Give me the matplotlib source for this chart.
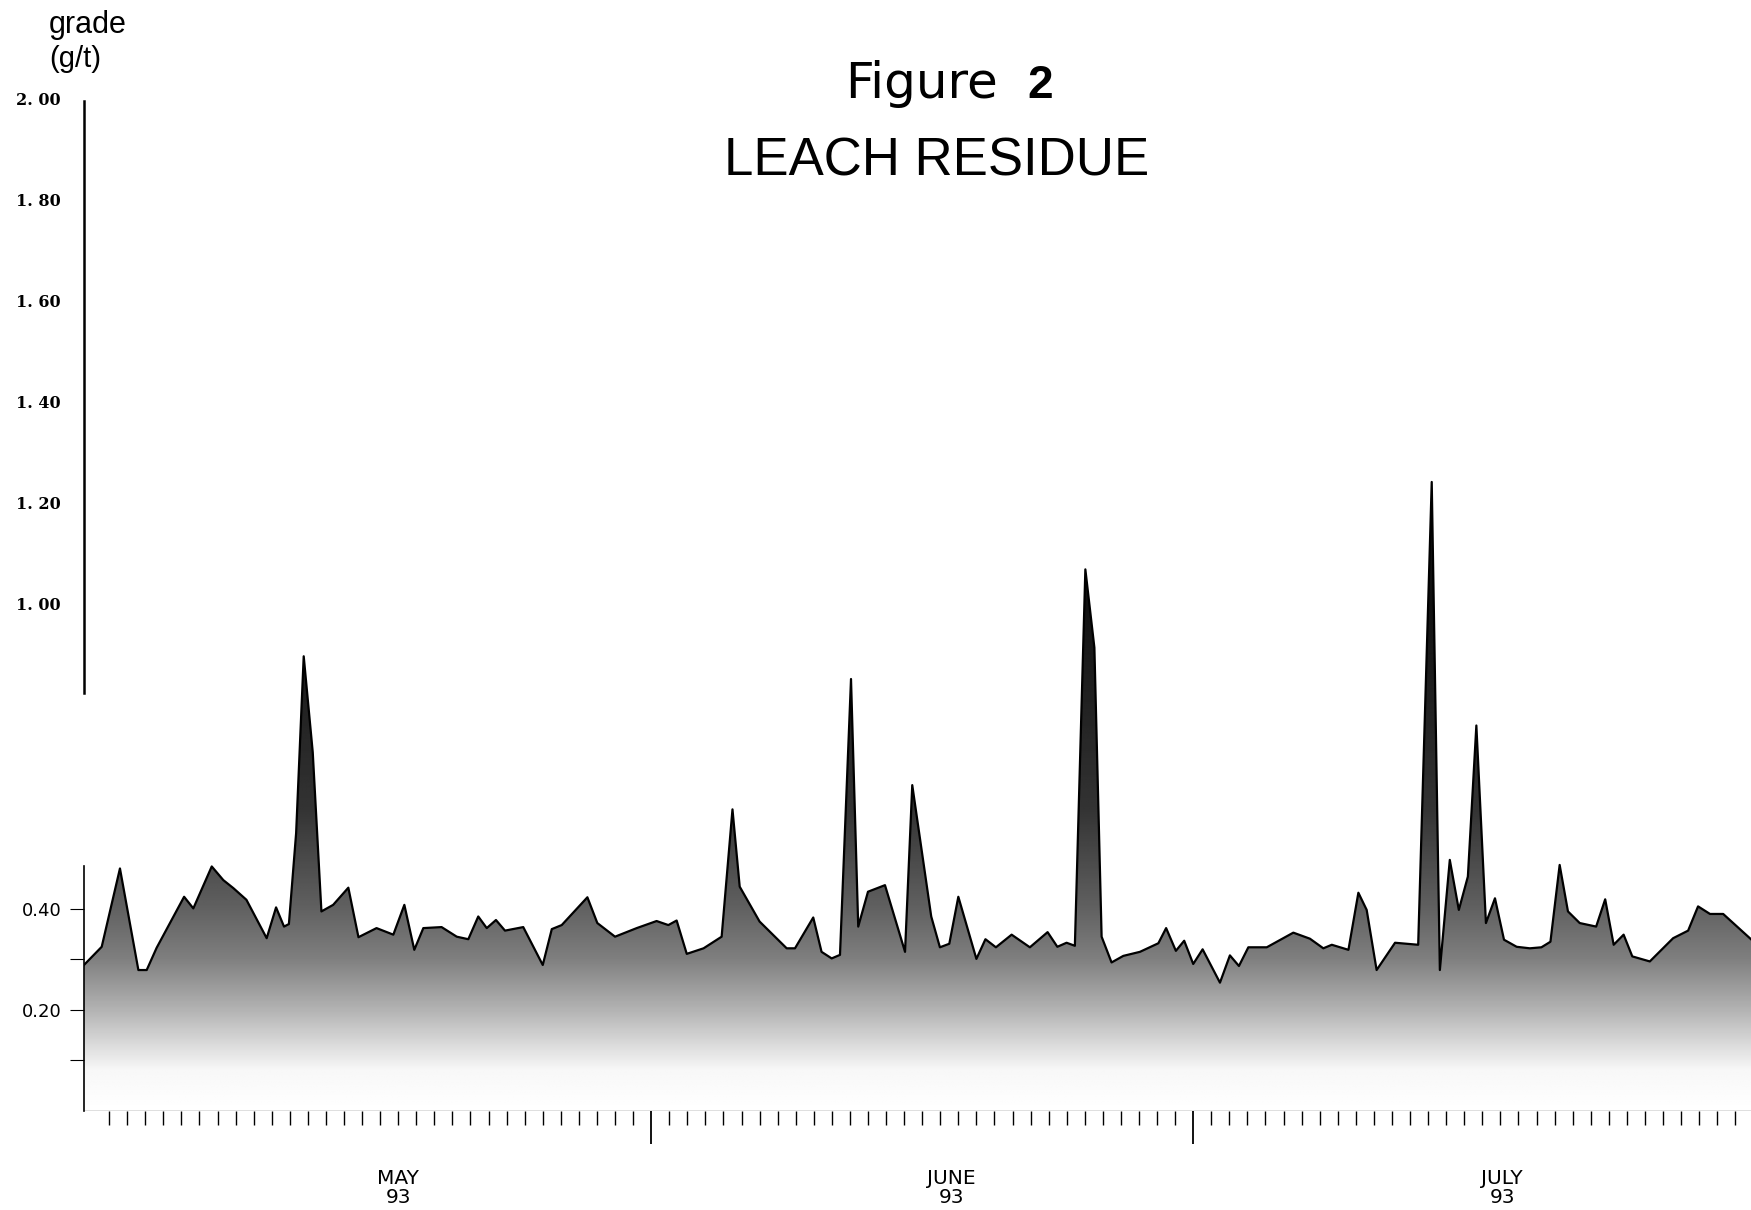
import matplotlib
matplotlib.use("Agg")
import matplotlib.pyplot as plt
import numpy as np

# daily leach residue grade, x in days from 1 May 1993
days = [-0.39, 0.59, 1.6, 2.62, 3.08, 3.63, 5.15, 5.66, 6.68, 7.32, 7.88, 8.6,
        9.72, 10.24, 10.68, 10.95, 11.35, 11.77, 12.27, 12.75, 13.4, 14.24, 14.8,
        15.8, 16.73, 17.34, 17.89, 18.39, 19.4, 20.24, 20.88, 21.43, 21.9, 22.41,
        22.91, 23.92, 25.0, 25.5, 26.05, 27.47, 28.02, 29.0, 30.2, 31.3, 31.95,
        32.41, 32.97, 33.9, 34.9, 35.5, 35.9, 37.0, 38.5, 38.96, 39.97, 40.43,
        40.99, 41.45, 42.06, 42.46, 43.0, 43.94, 45.05, 45.45, 46.5, 46.98, 47.5,
        48.0, 49.0, 49.5, 50.08, 50.95, 51.96, 52.94, 53.48, 53.99, 54.45, 55.03,
        55.53, 55.93, 56.48, 57.13, 58.05, 59.07, 59.5, 60.04, 60.5, 61.0, 61.52,
        62.48, 63.03, 63.53, 64.05, 65.07, 66.54, 67.46, 68.2, 68.67, 69.59,
        70.14, 70.6, 71.15, 72.17, 73.45, 74.2, 74.65, 75.2, 75.7, 76.2, 76.67,
        77.2, 77.7, 78.2, 78.9, 79.63, 80.27, 80.77, 81.28, 81.74, 82.39, 83.3,
        83.8, 84.27, 84.82, 85.3, 86.27, 87.56, 88.39, 88.94, 89.6, 90.33, 91.9]
grade = [0.289, 0.325, 0.48, 0.279, 0.279, 0.323, 0.424, 0.401, 0.484, 0.457,
         0.441, 0.418, 0.342, 0.403, 0.365, 0.37, 0.55, 0.90, 0.71, 0.395, 0.408,
         0.442, 0.344, 0.362, 0.349, 0.408, 0.319, 0.362, 0.364, 0.345, 0.34,
         0.385, 0.362, 0.378, 0.357, 0.364, 0.289, 0.36, 0.368, 0.423, 0.372,
         0.345, 0.362, 0.376, 0.368, 0.377, 0.311, 0.322, 0.345, 0.597, 0.444,
         0.375, 0.322, 0.322, 0.383, 0.315, 0.302, 0.309, 0.855, 0.365, 0.434,
         0.447, 0.315, 0.645, 0.385, 0.324, 0.331, 0.424, 0.301, 0.34, 0.324,
         0.349, 0.324, 0.354, 0.325, 0.333, 0.327, 1.072, 0.917, 0.345, 0.294,
         0.307, 0.315, 0.332, 0.362, 0.317, 0.337, 0.291, 0.32, 0.254, 0.308,
         0.287, 0.324, 0.324, 0.353, 0.341, 0.322, 0.329, 0.319, 0.432, 0.398,
         0.279, 0.333, 0.329, 1.245, 0.279, 0.497, 0.398, 0.464, 0.763, 0.372,
         0.421, 0.339, 0.325, 0.322, 0.324, 0.335, 0.487, 0.395, 0.372, 0.365,
         0.419, 0.329, 0.349, 0.306, 0.296, 0.342, 0.357, 0.405, 0.39, 0.39, 0.339]

upper_ticks = [2.0, 1.8, 1.6, 1.4, 1.2, 1.0]
upper_labels = ["2. 00", "1. 80", "1. 60", "1. 40", "1. 20", "1. 00"]
lower_ticks = [0.1, 0.2, 0.3, 0.4]
lower_labels = ["", "0.20", "", "0.40"]
month_ends = [31, 61]
months = ["MAY\n93", "JUNE\n93", "JULY\n93"]
month_pos = [17.0, 47.6, 78.1]

W, H = 1751, 1210
fig = plt.figure(figsize=(W / 100, H / 100), dpi=100)
ax = fig.add_axes([84 / W, 1 - 1111 / H, 1 - 84 / W, (1111 - 100.5) / H])
x0, x1 = -0.39, 91.87
ax.set_xlim(x0, x1)
ax.set_ylim(0, 2.0)
for s in ax.spines.values():
    s.set_visible(False)

# grey shading, dark at the top fading out near the bottom
yy = np.linspace(0, 2, 600)
dark = np.interp(yy, [0.0, 0.08, 0.2, 0.3, 0.4, 0.6, 1.0],
                 [0.0, 0.03, 0.3, 0.5, 0.62, 0.8, 0.93])
img = np.tile((1 - dark)[:, None], (1, 10))
poly = ax.fill_between(days, grade, 0, facecolor="none", edgecolor="none")
im = ax.imshow(img, extent=[x0, x1, 0, 2], origin="lower", aspect="auto",
               cmap="gray", vmin=0, vmax=1, interpolation="bilinear", zorder=1)
im.set_clip_path(poly.get_paths()[0], transform=ax.transData)
ax.plot(days, grade, color="black", lw=1.6, zorder=3)

# broken left axis
ax.plot([x0, x0], [0.828, 2.0], color="black", lw=1.8, clip_on=False)
ax.plot([x0, x0], [0.0, 0.484], color="black", lw=1.2, clip_on=False)
ax.axhline(0, color="black", lw=0.9)

ax.set_yticks(lower_ticks)
ax.set_yticklabels(lower_labels, fontsize=13, family="DejaVu Sans")
ax.tick_params(axis="y", length=10, width=0.8, pad=6)
ytr = ax.get_yaxis_transform()
for v, lab in zip(upper_ticks, upper_labels):
    ax.text(-23 / 1667, v, lab, transform=ytr, ha="right", va="center",
            fontsize=11.5, family="DejaVu Serif", fontweight="bold")

ax.set_xticks(month_ends)
ax.set_xticklabels([])
ax.set_xticks([d for d in range(1, 92) if d not in month_ends], minor=True)
ax.tick_params(axis="x", which="major", length=24, width=1.3, direction="out")
ax.tick_params(axis="x", which="minor", length=10, width=1.0, direction="out")

xtr = ax.get_xaxis_transform()
for p, m in zip(month_pos, months):
    ax.text(p, -0.0762, m, transform=xtr, ha="center", va="center",
            fontsize=14.5, family="DejaVu Sans", linespacing=1.0,
            multialignment="center")

fig.text(49 / W, 1 - 33 / H, "grade", fontsize=22, family="Liberation Sans",
         va="baseline")
fig.text(49 / W, 1 - 67 / H, "(g/t)", fontsize=21, family="Liberation Sans",
         va="baseline")
fig.text(998 / W, 1 - 98 / H, "Figure", fontsize=36, family="DejaVu Sans",
         ha="right", va="baseline")
fig.text(1027 / W, 1 - 98 / H, "2", fontsize=33,
         family=["Liberation Sans Narrow", "Liberation Sans"], fontweight="bold",
         va="baseline")
fig.text(936.5 / W, 1 - 176 / H, "LEACH RESIDUE", fontsize=38,
         family="Liberation Sans", ha="center", va="baseline")

fig.savefig("out.png", dpi=100, facecolor="white")
